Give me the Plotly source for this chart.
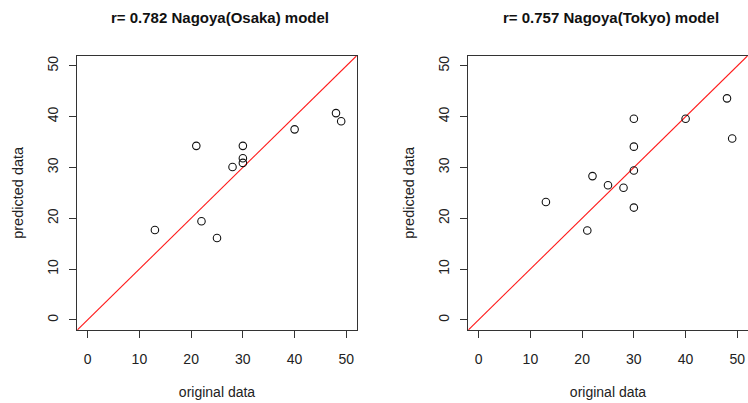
import plotly.graph_objects as go

# Data
osaka_original = [13, 21, 22, 25, 28, 30, 30, 30, 40, 48, 49]
osaka_predicted = [17.7, 34.25, 19.4, 16.1, 30.1, 34.25, 31.8, 30.9, 37.5, 40.7, 39.1]

tokyo_original = [13, 21, 22, 25, 28, 30, 30, 30, 30, 40, 48, 49]
tokyo_predicted = [23.2, 17.6, 28.3, 26.5, 26.0, 39.6, 34.1, 29.4, 22.1, 39.6, 43.6, 35.7]

titles = ["r= 0.782 Nagoya(Osaka) model", "r= 0.757 Nagoya(Tokyo) model"]
tick_vals = [0, 10, 20, 30, 40, 50]
tick_text = ["0", "10", "20", "30", "40", "50"]
axis_range = [-2, 52]
x_label = "original data"
y_label = "predicted data"

FONT = "Liberation Sans, Arial, sans-serif"
W, H = 748, 403


def px_x(v):
    return v / W


def px_y(v):
    return 1 - v / H


fig = go.Figure()

panels = [(osaka_original, osaka_predicted, "x", "y"), (tokyo_original, tokyo_predicted, "x2", "y2")]
for xs, ys, xa, ya in panels:
    fig.add_trace(go.Scatter(
        x=axis_range, y=axis_range, mode="lines",
        line=dict(color="#ff1a1a", width=1.1), xaxis=xa, yaxis=ya,
        showlegend=False, hoverinfo="skip"))
    fig.add_trace(go.Scatter(
        x=xs, y=ys, mode="markers",
        marker=dict(symbol="circle-open", size=7.5, color="#111", line=dict(width=1.1, color="#111")),
        xaxis=xa, yaxis=ya, showlegend=False))

x_domains = [[px_x(77.3), px_x(356.7)], [px_x(468.3), min(1.0, px_x(747.7))]]
y_domain = [px_y(330), px_y(55.7)]

common_axis = dict(
    range=axis_range, showgrid=False, zeroline=False, automargin=False,
    showline=True, linecolor="#333", linewidth=1, mirror=True,
    ticks="outside", ticklen=7, tickwidth=1, tickcolor="#333",
    tickvals=tick_vals, ticktext=tick_text,
    tickfont=dict(family=FONT, size=14, color="#222"),
)

layout = dict(
    width=W, height=H,
    margin=dict(l=0, r=0, t=0, b=0),
    paper_bgcolor="white", plot_bgcolor="white",
    showlegend=False,
)
for i, suffix in enumerate(["", "2"]):
    layout["xaxis" + suffix] = dict(
        common_axis, domain=x_domains[i], anchor="y" + suffix,
        ticklabelstandoff=9, ticklabeloverflow="allow",
        title=dict(text=x_label, font=dict(family=FONT, size=14, color="#222"), standoff=21),
    )
    layout["yaxis" + suffix] = dict(
        common_axis, domain=y_domain, anchor="x" + suffix,
        tickangle=-90, ticklabelstandoff=6,
        title=dict(text=y_label, font=dict(family=FONT, size=14.5, color="#222"), standoff=17),
    )

fig.update_layout(**layout)

for i, t in enumerate(titles):
    cx = (x_domains[i][0] + x_domains[i][1]) / 2
    fig.add_annotation(
        text="<b>" + t + "</b>", x=cx + 3 / W, y=px_y(18), xref="paper", yref="paper",
        xanchor="center", yanchor="middle", showarrow=False,
        font=dict(family=FONT, size=15, color="#111"))

fig.write_html(
    "out.html",
    config={"displayModeBar": False},
    post_script=(
        "document.body.style.margin='0';"
        "document.documentElement.style.overflow='hidden';"
        "document.body.style.overflow='hidden';"
    ),
)
